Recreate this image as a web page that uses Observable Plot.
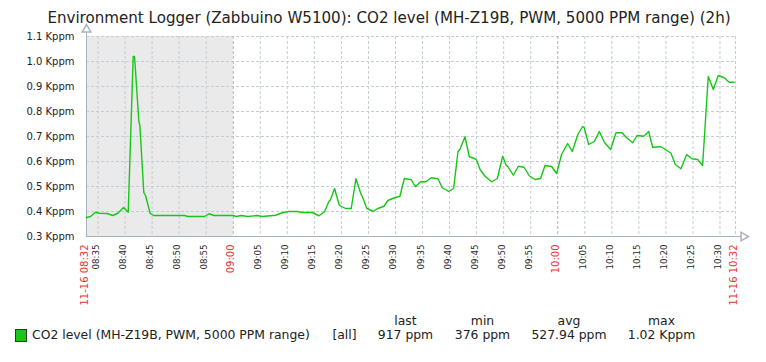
<!DOCTYPE html>
<html>
<head>
<meta charset="utf-8">
<script src="https://cdn.jsdelivr.net/npm/d3@7"></script>
<script src="https://cdn.jsdelivr.net/npm/@observablehq/plot@0.6"></script>
<style>
  html, body { margin: 0; padding: 0; background: #fff; }
  #wrap { position: relative; width: 766px; height: 362px; overflow: hidden; font-family: "DejaVu Sans", sans-serif; color: #222; }
  #wrap svg { position: absolute; left: 0; top: 0; }
  .t { position: absolute; white-space: nowrap; line-height: 1; }
</style>
</head>
<body>
<div id="wrap"></div>
<script>
// ---- data ----
const titleText = "Environment Logger (Zabbuino W5100): CO2 level (MH-Z19B, PWM, 5000 PPM range) (2h)";
const periodStart = "08:32:52";
const periodEnd = "10:32:52";
const times = [
  "08:32:52","08:33:37","08:34:32","08:35:16","08:36:41","08:37:44","08:38:40","08:39:43","08:40:35","08:41:30",
  "08:41:45","08:42:33","08:42:44","08:43:28","08:43:47","08:44:39","08:45:16","08:51:00","08:51:36","08:54:41",
  "08:55:34","08:56:25","08:59:56","09:00:33","09:01:29","09:02:43","09:04:26","09:05:22","09:07:50","09:09:04",
  "09:10:17","09:11:50","09:12:46","09:14:37","09:15:50","09:16:53","09:17:41","09:18:00","09:18:44","09:19:36",
  "09:20:46","09:21:49","09:22:41","09:23:37","09:23:55","09:24:40","09:25:53","09:26:38","09:27:52","09:28:36",
  "09:29:35","09:30:49","09:31:38","09:32:55","09:33:40","09:34:38","09:35:38","09:36:37","09:37:51","09:38:39",
  "09:39:49","09:40:45","09:41:33","09:41:55","09:42:51","09:43:39","09:44:42","09:45:00","09:45:38","09:46:33",
  "09:47:47","09:48:50","09:49:49","09:50:26","09:50:52","09:51:47","09:52:43","09:53:46","09:54:44","09:55:47",
  "09:56:50","09:57:38","09:58:52","09:59:48","10:00:43","10:01:50","10:02:41","10:03:44","10:04:36","10:04:54",
  "10:05:43","10:06:46","10:07:41","10:08:37","10:09:47","10:10:46","10:11:53","10:12:38","10:13:52","10:14:40",
  "10:15:54","10:16:49","10:17:33","10:19:05","10:19:43","10:20:56","10:21:45","10:22:47","10:23:50","10:24:49",
  "10:25:52","10:26:47","10:27:50","10:28:46","10:29:41","10:30:47","10:31:43","10:32:38"
];
const ppm = [
  376,380,397,393,392,384,393,416,397,1020,
  1020,760,745,475,464,392,384,384,380,380,
  391,384,384,380,384,380,384,380,385,395,
  400,400,396,396,383,399,440,448,492,425,
  412,412,531,469,457,413,400,411,421,444,
  453,461,532,527,499,519,519,535,531,495,
  480,492,639,649,699,619,611,605,568,541,
  519,532,621,587,577,545,581,577,543,528,
  532,584,580,552,629,672,640,709,740,735,
  668,680,720,677,648,715,715,697,675,704,
  701,720,657,659,651,633,588,571,628,611,
  608,584,940,888,944,935,917,917
];
const xTickLabels = ["08:35","08:40","08:45","08:50","08:55","09:00","09:05","09:10","09:15","09:20","09:25","09:30",
  "09:35","09:40","09:45","09:50","09:55","10:00","10:05","10:10","10:15","10:20","10:25","10:30"];
const hourTickLabels = ["09:00","10:00"];
const edgeLabels = ["11-16 08:32","11-16 10:32"];
const yTicks = [300,400,500,600,700,800,900,1000,1100];
const shadeUntil = "09:00";

const legendName = "CO2 level (MH-Z19B, PWM, 5000 PPM range)";
const legendScope = "[all]";
const legendHeaders = ["last","min","avg","max"];
const legendValues = ["917 ppm","376 ppm","527.94 ppm","1.02 Kppm"];

// ---- build ----
function parseT(s) {
  const [h, m, sec] = s.split(":").map(Number);
  return new Date(Date.UTC(2023, 10, 16, h, m, sec || 0));
}
const t0 = parseT(periodStart), t1 = parseT(periodEnd);
const series = times.map((t, i) => ({date: parseT(t), value: ppm[i]}));
const blackTicks = xTickLabels.filter(d => !hourTickLabels.includes(d));
const edges = [{date: t0, label: edgeLabels[0]}, {date: t1, label: edgeLabels[1]}];

const gridColor = "#c5cdd4";
const axisColor = "#a9b1b9";
const red = "#e8362f";

const chart = Plot.plot({
  width: 766,
  height: 362,
  marginLeft: 86,
  marginRight: 31,
  marginTop: 36,
  marginBottom: 126,
  x: {type: "utc", domain: [t0, t1], axis: null},
  y: {domain: [yTicks[0], yTicks[yTicks.length - 1]], axis: null},
  style: {fontFamily: "DejaVu Sans", background: "white", overflow: "visible"},
  marks: [
    Plot.rect([0], {x1: () => t0, x2: () => parseT(shadeUntil), y1: () => yTicks[0], y2: () => yTicks[yTicks.length - 1], fill: "#eaeaea"}),
    Plot.ruleY(yTicks.slice(1), {stroke: gridColor, strokeDasharray: "3,2", strokeWidth: 1}),
    Plot.ruleX(blackTicks.map(parseT).concat([t1]), {stroke: gridColor, strokeDasharray: "3,2", strokeWidth: 1}),
    Plot.ruleX(hourTickLabels.map(parseT), {stroke: "#aab3bb", strokeDasharray: "3,2", strokeWidth: 1}),
    Plot.ruleX([t0], {stroke: axisColor, strokeWidth: 1, insetTop: -4}),
    Plot.ruleY([yTicks[0]], {stroke: axisColor, strokeWidth: 1, insetRight: -7}),
    Plot.dot([0], {frameAnchor: "top-left", dy: -7, symbol: "triangle", r: 3.2, fill: "white", stroke: axisColor}),
    Plot.dot([0], {frameAnchor: "bottom-right", dx: 8, symbol: "triangle", rotate: 90, r: 3.2, fill: "white", stroke: axisColor}),
    Plot.line(series, {x: "date", y: "value", stroke: "#16c716", strokeWidth: 1.4}),
    Plot.text(yTicks, {y: d => d, text: d => (d / 1000).toFixed(1) + " Kppm", frameAnchor: "left", textAnchor: "end", dx: -12, fontSize: 10, fill: "#222"}),
    Plot.text(blackTicks, {x: d => parseT(d), text: d => d, frameAnchor: "bottom", rotate: -90, textAnchor: "end", dy: 8, dx: 1, fontSize: 8.7, fill: "#2a2a2a"}),
    Plot.text(hourTickLabels, {x: d => parseT(d), text: d => d, frameAnchor: "bottom", rotate: -90, textAnchor: "end", dy: 8, dx: 1, fontSize: 10, fill: red}),
    Plot.text(edges, {x: "date", text: "label", frameAnchor: "bottom", rotate: -90, textAnchor: "end", dy: 8, dx: 1, fontSize: 10, fill: red})
  ]
});

const wrap = document.getElementById("wrap");
wrap.appendChild(chart);

function addText(txt, left, top, size, opts = {}) {
  const d = document.createElement("div");
  d.className = "t";
  d.textContent = txt;
  d.style.fontSize = size + "px";
  d.style.top = top + "px";
  if (opts.center) {
    d.style.left = (left - 200) + "px";
    d.style.width = "400px";
    d.style.textAlign = "center";
  } else {
    d.style.left = left + "px";
  }
  wrap.appendChild(d);
  return d;
}

// title (centered)
const title = addText(titleText, 0, 11, 15.1);
title.style.left = "0px"; title.style.width = "766px"; title.style.textAlign = "center";
title.style.paddingLeft = "12px"; title.style.boxSizing = "border-box";

// legend
const sw = document.createElement("div");
sw.style.cssText = "position:absolute;left:15px;top:329px;width:10px;height:11px;background:#16c716;border:1px solid #333;";
wrap.appendChild(sw);
addText(legendName, 32, 328.5, 12.4);
addText(legendScope, 344.5, 328.5, 12.4, {center: true});
const centers = [405.5, 482.5, 569, 661.5];
legendHeaders.forEach((h, i) => addText(h, centers[i], 315, 12.4, {center: true}));
legendValues.forEach((v, i) => addText(v, centers[i], 328.5, 12.4, {center: true}));
</script>
</body>
</html>
